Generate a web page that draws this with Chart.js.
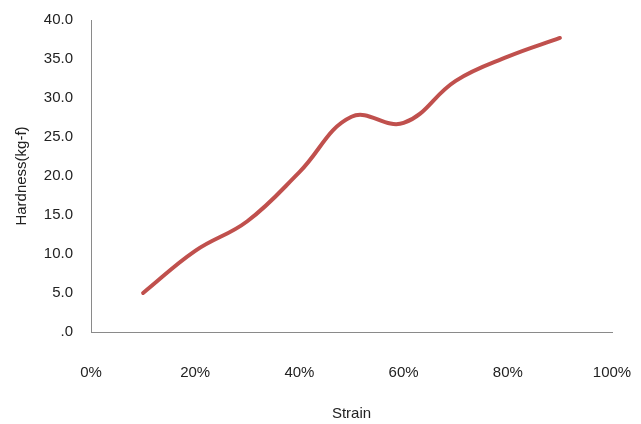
<!DOCTYPE html>
<html>
<head>
<meta charset="utf-8">
<script src="https://cdn.jsdelivr.net/npm/chart.js@4/dist/chart.umd.min.js"></script>
<style>
  html, body { margin: 0; padding: 0; background: #fff; }
  #wrap { width: 641px; height: 424px; position: relative; }
</style>
</head>
<body>
<div id="wrap"><canvas id="c" width="641" height="424"></canvas></div>
<script>
// Strain (fraction) and measured hardness (kg-f)
const strain = [0.1, 0.2, 0.3, 0.4, 0.5, 0.6, 0.7, 0.8, 0.9];
const hardness = [5.0, 10.4, 14.2, 20.5, 27.6, 26.8, 32.2, 35.3, 37.7];
const xTickValues = [0, 0.2, 0.4, 0.6, 0.8, 1.0];
const yTickValues = [0, 5, 10, 15, 20, 25, 30, 35, 40];

const FONT = "'Liberation Sans', Arial, sans-serif";
const points = strain.map((s, i) => ({ x: s, y: hardness[i] }));

// Keep the plot area fixed by the layout padding alone
function noEdgePadding(s) {
  s.paddingTop = 0; s.paddingBottom = 0; s.paddingLeft = 0; s.paddingRight = 0;
}

new Chart(document.getElementById('c'), {
  type: 'line',
  data: {
    datasets: [{
      data: points,
      borderColor: '#c0504d',
      borderWidth: 4,
      pointRadius: 0,
      tension: 0.4,
      fill: false,
      borderCapStyle: 'round'
    }]
  },
  options: {
    responsive: false,
    animation: false,
    layout: { padding: { left: 0, right: 29, top: 20, bottom: 0 } },
    plugins: { legend: { display: false }, tooltip: { enabled: false } },
    scales: {
      x: {
        type: 'linear',
        min: 0, max: 1,
        afterBuildTicks: s => { s.ticks = xTickValues.map(v => ({ value: v })); },
        afterFit: s => { s.height = 92; noEdgePadding(s); },
        grid: { display: false, drawTicks: false },
        border: { display: true, color: '#8a8a8a', width: 1 },
        ticks: {
          padding: 32,
          color: '#222',
          font: { family: FONT, size: 15 },
          maxRotation: 0,
          callback: v => Math.round(v * 100) + '%'
        },
        title: {
          display: true,
          text: 'Strain',
          color: '#222',
          font: { family: FONT, size: 15 },
          padding: { top: 0, bottom: 1 }
        }
      },
      y: {
        min: 0, max: 40,
        afterBuildTicks: s => { s.ticks = yTickValues.map(v => ({ value: v })); },
        afterFit: s => { s.width = 91; noEdgePadding(s); },
        grid: { display: false, drawTicks: false },
        border: { display: true, color: '#8a8a8a', width: 1 },
        ticks: {
          padding: 18,
          color: '#222',
          font: { family: FONT, size: 15 },
          callback: v => v === 0 ? '.0' : v.toFixed(1)
        },
        title: {
          display: true,
          text: 'Hardness(kg-f)',
          color: '#222',
          font: { family: FONT, size: 15 },
          padding: { top: 13, bottom: 0 }
        }
      }
    }
  }
});
</script>
</body>
</html>
